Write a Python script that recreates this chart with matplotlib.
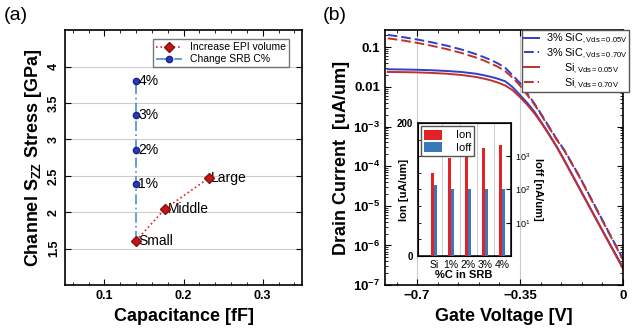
import numpy as np
import matplotlib
matplotlib.use('Agg')
import matplotlib.pyplot as plt
from matplotlib.ticker import AutoMinorLocator, LogLocator, NullFormatter, FixedLocator

plt.rcParams['font.family'] = ['Liberation Sans', 'DejaVu Sans']
plt.rcParams['mathtext.fontset'] = 'custom'
plt.rcParams['mathtext.rm'] = 'Liberation Sans'
plt.rcParams['mathtext.bf'] = 'Liberation Sans:bold'
plt.rcParams['mathtext.it'] = 'Liberation Sans:italic'

# ---- panel (a) data ----
epi_cap = [0.140, 0.177, 0.232]
epi_stress = [1.61, 2.05, 2.47]
epi_names = ['Small', 'Middle', 'Large']
srb_cap = [0.140, 0.140, 0.140, 0.140, 0.140]
srb_stress = [1.61, 2.39, 2.86, 3.33, 3.80]
srb_names = ['', '1%', '2%', '3%', '4%']

# ---- panel (b) data ----
vg = [-0.80, -0.75, -0.70, -0.65, -0.60, -0.55, -0.50, -0.475, -0.45, -0.425,
      -0.40, -0.375, -0.35, -0.325, -0.30, -0.275, -0.25, -0.225, -0.20,
      -0.15, -0.10, -0.05, 0.0]
sic_lin = [0.0278, 0.0275, 0.0270, 0.0263, 0.0252, 0.0238, 0.0215, 0.0198, 0.0180, 0.0160,
           0.0138, 0.0098, 0.0062, 0.0039, 0.0023, 0.0012, 6.2e-4, 3.1e-4, 1.45e-4,
           3.0e-5, 6.2e-6, 1.3e-6, 2.8e-7]
sic_sat = [0.205, 0.181, 0.157, 0.133, 0.110, 0.088, 0.067, 0.057, 0.048, 0.039,
           0.030, 0.0195, 0.0125, 0.0068, 0.0037, 0.0019, 9.5e-4, 4.8e-4, 2.6e-4,
           5.9e-5, 1.17e-5, 2.3e-6, 4.6e-7]
si_lin = [0.0238, 0.0236, 0.0232, 0.0225, 0.0215, 0.0200, 0.0178, 0.0163, 0.0147, 0.0128,
          0.0108, 0.0082, 0.0055, 0.0035, 0.0021, 0.00115, 6.0e-4, 3.0e-4, 1.4e-4,
          2.9e-5, 6.0e-6, 1.25e-6, 2.6e-7]
si_sat = [0.168, 0.149, 0.129, 0.109, 0.090, 0.072, 0.055, 0.047, 0.039, 0.032,
          0.0248, 0.0170, 0.0108, 0.0062, 0.0035, 0.0018, 9.0e-4, 4.6e-4, 2.5e-4,
          5.7e-5, 1.12e-5, 2.2e-6, 4.4e-7]

# ---- inset data ----
carbon = ['Si', '1%', '2%', '3%', '4%']
ion = [125, 147, 156, 162, 167]
ioff = [140, 100, 100, 100, 100]

RED = '#c0302f'
BLUE = '#2f3fc8'

fig = plt.figure(figsize=(6.35, 3.35), dpi=100)

# ================= (a) =================
ax = fig.add_axes([0.102, 0.149, 0.374, 0.761])
ax.plot(srb_cap, srb_stress, linestyle=(0, (6, 2, 1, 2)), color='#4d8fd6', lw=1.2,
        marker='o', ms=4.5, mfc='#2a3ab0', mec='#1a2590', label='Change SRB C%', zorder=3)
ax.plot(epi_cap, epi_stress, linestyle=':', color='#e02020', lw=1.2,
        marker='D', ms=5, mfc='#c01818', mec='#8a1010', label='Increase EPI volume', zorder=4)
for x, y, t in zip(srb_cap, srb_stress, srb_names):
    ax.text(x + 0.003, y, t, fontsize=10, va='center', ha='left')
for x, y, t in zip(epi_cap, epi_stress, epi_names):
    ax.text(x + 0.003, y, t, fontsize=10, va='center', ha='left')

ax.set_xlim(0.05, 0.35)
ax.set_ylim(1.0, 4.5)
ax.set_xticks([0.1, 0.2, 0.3])
ax.set_xticklabels(['0.1', '0.2', '0.3'])
ax.set_yticks([1.5, 2, 2.5, 3, 3.5, 4])
ax.set_yticklabels(['1.5', '2', '2.5', '3', '3.5', '4'], rotation=90, va='center')
ax.xaxis.set_minor_locator(AutoMinorLocator(5))
ax.tick_params(which='both', direction='in', top=True, right=True, labelsize=9)
ax.tick_params(which='major', length=4)
ax.tick_params(which='minor', length=2)
for lab in ax.get_xticklabels() + ax.get_yticklabels():
    lab.set_fontweight('bold')
ax.grid(axis='y', color='#cccccc', lw=0.8)
ax.set_axisbelow(True)
ax.set_xlabel('Capacitance [fF]', fontsize=13, fontweight='bold', labelpad=4)
ax.set_ylabel(r'Channel S$_{\mathbf{ZZ}}$ Stress [GPa]', fontsize=13, fontweight='bold', labelpad=3)
for s in ax.spines.values():
    s.set_linewidth(1.2)
h, l = ax.get_legend_handles_labels()
ax.legend(h[::-1], l[::-1], loc='upper right', fontsize=7.5, frameon=True, fancybox=False,
          edgecolor='#555555', handlelength=2.5, borderpad=0.3, labelspacing=0.2,
          borderaxespad=0, bbox_to_anchor=(0.945, 0.965))

# ================= (b) =================
bx = fig.add_axes([0.606, 0.149, 0.375, 0.761])
bx.plot(vg, sic_lin, color=BLUE, lw=1.4, label=r'3% SiC$_{\rm ,Vds=0.05V}$')
bx.plot(vg, sic_sat, color=BLUE, lw=1.4, ls=(0, (5, 2)), label=r'3% SiC$_{\rm ,Vds=0.70V}$')
bx.plot(vg, si_lin, color=RED, lw=1.4, label=r'      Si$_{\rm ,Vds=0.05V}$')
bx.plot(vg, si_sat, color=RED, lw=1.4, ls=(0, (5, 2)), label=r'      Si$_{\rm ,Vds=0.70V}$')
bx.set_yscale('log')
bx.set_xlim(-0.81, 0)
bx.set_ylim(1e-7, 0.27)
bx.set_xticks([-0.7, -0.35, 0])
bx.set_xticklabels(['\u22120.7', '\u22120.35', '0'])
bx.set_yticks([1e-7, 1e-6, 1e-5, 1e-4, 1e-3, 1e-2, 1e-1])
bx.set_yticklabels([r'$\mathbf{10^{-7}}$', r'$\mathbf{10^{-6}}$', r'$\mathbf{10^{-5}}$',
                    r'$\mathbf{10^{-4}}$', r'$\mathbf{10^{-3}}$', '0.01', '0.1'])
bx.yaxis.set_minor_locator(LogLocator(base=10, subs=np.arange(2, 10)))
bx.yaxis.set_minor_formatter(NullFormatter())
bx.xaxis.set_minor_locator(AutoMinorLocator(5))
bx.tick_params(which='both', direction='in', top=True, right=True, labelsize=9.5)
bx.tick_params(which='major', length=4)
bx.tick_params(which='minor', length=2)
for lab in bx.get_xticklabels() + bx.get_yticklabels():
    lab.set_fontweight('bold')
bx.grid(axis='x', color='#cccccc', lw=0.8)
bx.set_axisbelow(True)
bx.set_xlabel('Gate Voltage [V]', fontsize=13, fontweight='bold', labelpad=4)
bx.set_ylabel('Drain Current  [uA/um]', fontsize=13, fontweight='bold', labelpad=2)
for s in bx.spines.values():
    s.set_linewidth(1.2)
bx.legend(loc='upper right', fontsize=7.8, frameon=True, fancybox=False, framealpha=1,
          edgecolor='#555555', handlelength=1.4, handletextpad=0.6, borderpad=0.15,
          labelspacing=0.05, borderaxespad=0, bbox_to_anchor=(1.025, 1.0))

# ================= inset =================
ix = fig.add_axes([0.658, 0.236, 0.146, 0.397])
pos = np.arange(len(carbon))
w = 0.19
ix.bar(pos - w / 2, ion, width=w, color='#e32228', label='Ion', zorder=3)
ix.set_ylim(0, 200)
ix.set_xlim(-0.95, 4.45)
ix.set_yticks([0, 200])
ix.set_yticklabels(['0', '200'])
ix.yaxis.set_minor_locator(FixedLocator([25, 50, 75, 100, 125, 150, 175]))
ix.set_xticks(pos)
ix.set_xticklabels(carbon)
ix.set_xticks(pos + 0.5, minor=True)
ix.tick_params(axis='x', which='both', length=0, labelsize=7.5, pad=3)
ix.tick_params(axis='y', which='both', direction='in', labelsize=7)
ix.tick_params(axis='y', which='minor', length=2)
for lab in ix.get_yticklabels():
    lab.set_fontweight('bold')
ix.grid(axis='x', which='minor', color='#cccccc', lw=0.7)
ix.set_axisbelow(True)
ix.set_xlabel('%C in SRB', fontsize=8, fontweight='bold', labelpad=0)
ix.set_ylabel('Ion [uA/um]', fontsize=8, fontweight='bold')
ix.yaxis.set_label_coords(-0.1, 0.5)
for s in ix.spines.values():
    s.set_linewidth(1.1)

ix2 = ix.twinx()
ix2.bar(pos + w / 2, ioff, width=w, color='#3a78b8', label='Ioff', zorder=3)
ix2.set_yscale('log')
ix2.set_ylim(1, 1e4)
ix2.set_yticks([10, 100, 1000])
ix2.set_yticklabels([r'10$^1$', r'10$^2$', r'10$^3$'])
ix2.yaxis.set_minor_formatter(NullFormatter())
ix2.tick_params(axis='y', which='both', direction='in', labelsize=6.5)
ix2.tick_params(axis='y', which='minor', length=0)
ix2.set_ylabel('Ioff [nA/um]', fontsize=8, fontweight='bold', rotation=270, labelpad=9)

h1, l1 = ix.get_legend_handles_labels()
h2, l2 = ix2.get_legend_handles_labels()
ix2.legend(h1 + h2, l1 + l2, loc='upper left', fontsize=8, frameon=True, fancybox=False,
           framealpha=1, edgecolor='#555555', handlelength=1.6, handleheight=1.0,
           borderpad=0.3, labelspacing=0.15, handletextpad=1.2, borderaxespad=0.3)

fig.text(0.006, 0.94, '(a)', fontsize=14)
fig.text(0.508, 0.94, '(b)', fontsize=14)

fig.savefig('out.png', dpi=100)
